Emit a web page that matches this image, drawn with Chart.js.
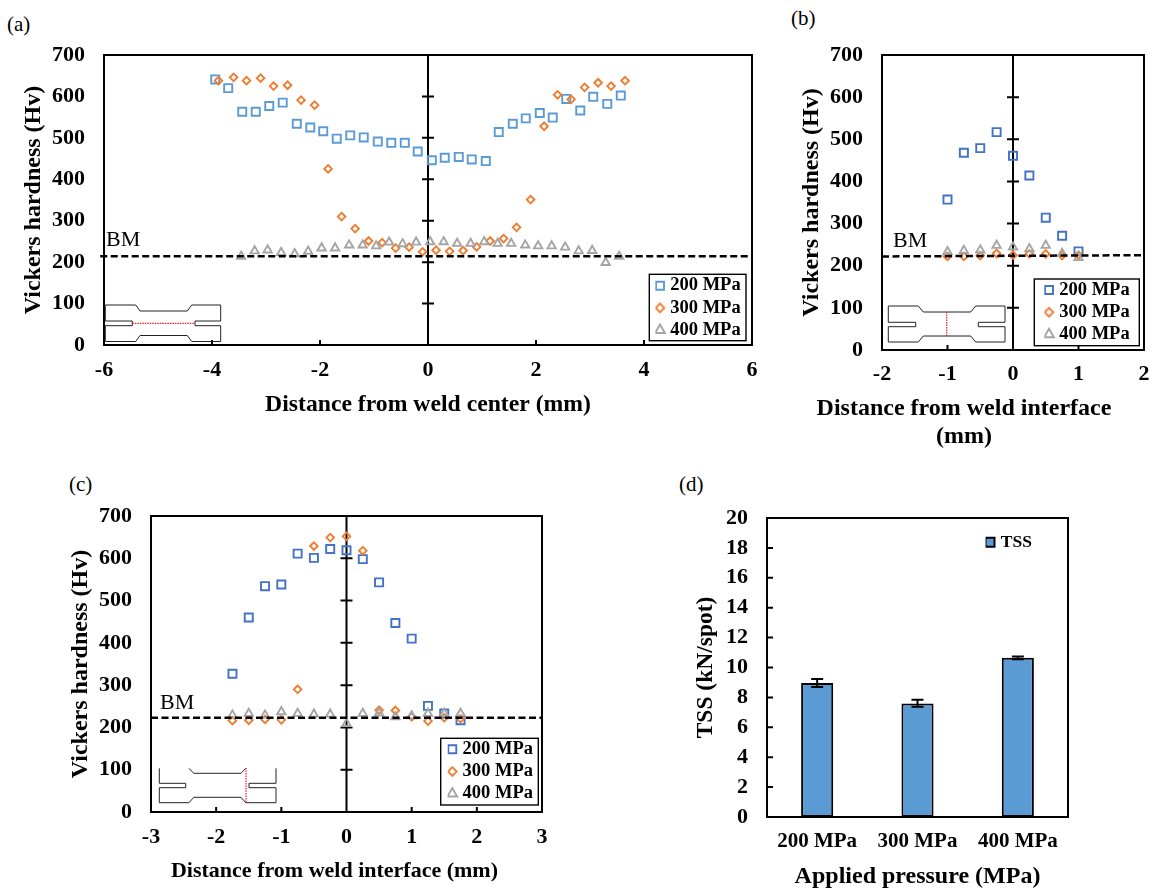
<!DOCTYPE html>
<html>
<head>
<meta charset="utf-8">
<script src="https://cdn.jsdelivr.net/npm/chart.js@4"></script>
<style>
html,body{margin:0;padding:0;background:#fff;width:1158px;height:892px;overflow:hidden}
canvas{position:absolute;display:block}
svg{position:absolute;left:0;top:0;pointer-events:none}
.letter{position:absolute;font:21px "Liberation Serif",serif;color:#000;line-height:24px}
</style>
</head>
<body>
<div class="letter" style="left:7px;top:12px">(a)</div>
<div class="letter" style="left:791px;top:6px">(b)</div>
<div class="letter" style="left:69px;top:472px">(c)</div>
<div class="letter" style="left:679px;top:472px">(d)</div>
<canvas id="ca"></canvas><canvas id="cb"></canvas><canvas id="cc"></canvas><canvas id="cd"></canvas>
<svg width="1158" height="892" fill="none">
  <g stroke="#222" stroke-width="1">
    <path d="M105.3 305H135.7L140 311H187.3L191.7 305H220.7V321H195V325.7H220.7V341.5H191.7L187.3 335.5H140L135.7 341.5H105.3V325.7H132.3V321H105.3Z"/>
    <path d="M888.3 306H918.3L923.3 312H970.7L975.7 306H1005V322.3H978.3V326.7H1005V342H975.7L970.7 336H923.3L918.3 342H888.3V326.7H915.7V322.3H888.3Z"/>
    <path d="M159.3 768.3V783.3H185.7V787.7H159.3V802.7H189L193.7 797.3H241L245.7 802.7H276V787.7H249V783.3H276V768.3M189 768.3L193.7 773.3H241L245.7 768.3"/>
  </g>
  <g stroke="#e8202a" stroke-width="1.2" stroke-dasharray="1.5 1">
    <path d="M132.3 323.4H195"/>
    <path d="M946.7 312V336"/>
    <path d="M246 768V803"/>
  </g>
</svg>
<script>
const pressureLabels = ['200 MPa', '300 MPa', '400 MPa'];

const aX200 = [-3.94,-3.70,-3.44,-3.19,-2.94,-2.69,-2.43,-2.18,-1.94,-1.69,-1.44,-1.19,-0.93,-0.68,-0.43,-0.19,0.07,0.31,0.57,0.81,1.07,1.31,1.57,1.81,2.07,2.31,2.56,2.82,3.06,3.32,3.57];
const aY200 = [641,620,563,563,577,585,534,525,516,498,506,501,491,488,488,467,446,452,454,448,444,514,534,547,560,549,594,566,599,582,602];
const aX300 = [-3.88,-3.60,-3.36,-3.10,-2.86,-2.60,-2.35,-2.10,-1.85,-1.60,-1.35,-1.10,-0.85,-0.60,-0.35,-0.10,0.15,0.40,0.65,0.90,1.15,1.40,1.64,1.90,2.15,2.40,2.65,2.90,3.15,3.39,3.65];
const aY300 = [638,646,638,644,625,627,591,579,425,310,281,251,247,234,236,225,229,226,228,237,251,257,284,351,528,604,593,622,633,625,638];
const aX400 = [-3.46,-3.21,-2.97,-2.72,-2.47,-2.22,-1.97,-1.72,-1.46,-1.21,-0.96,-0.72,-0.47,-0.22,0.04,0.29,0.54,0.79,1.04,1.29,1.54,1.80,2.04,2.29,2.54,2.79,3.04,3.29,3.54];
const aY400 = [214,227,229,223,220,226,234,234,241,241,239,248,244,248,249,249,245,245,249,245,245,241,239,239,236,227,228,199,214];
const aBmX = [-6.07,6];
const aBmY = [214,214];

const bX = [-1,-0.75,-0.5,-0.25,0,0.25,0.5,0.75,1];
const bY200 = [357,468,479,517,461,414,314,271,234];
const bY300 = [222,222,224,229,225,228,228,224,225];
const bY400 = [233,236,237,248,244,240,248,229,219];
const bBmX = [-2,2];
const bBmY = [222,225];

const cX = [-1.75,-1.5,-1.25,-1,-0.75,-0.5,-0.25,0,0.25,0.5,0.75,1,1.25,1.5,1.75];
const cY200 = [327,460,534,538,611,601,622,619,598,543,447,410,251,233,217];
const cY300 = [216,217,219,218,290,629,649,652,618,241,240,225,215,223,221];
const cY400 = [229,233,229,237,233,231,231,209,233,234,225,227,233,233,233];
const cBmX = [-3,3];
const cBmY = [223,223];

const tssValues = [8.97,7.6,10.65];
const tssLow = [8.69,7.37,10.55];
const tssHigh = [9.23,7.84,10.73];

const SERIF = '"Liberation Serif","Times New Roman",serif';
const BLUE_A = '#5B9BD5', BLUE_B = '#4472C4', ORANGE = '#ED7D31', GREY = '#A5A5A5';
Chart.defaults.animation = false;
Chart.defaults.color = '#000';

function zip(xs, ys){ return xs.map((x,i)=>({x, y:ys[i]})); }

function legendMark(draw){
  const c = document.createElement('canvas'); c.width = 13; c.height = 13;
  const g = c.getContext('2d'); g.translate(6.5,6.5); draw(g); return c;
}
const legendDiamond = legendMark(g=>{
  g.strokeStyle = ORANGE; g.lineWidth = 1.9; g.beginPath();
  g.moveTo(0,-4.3); g.lineTo(4.3,0); g.lineTo(0,4.3); g.lineTo(-4.3,0); g.closePath(); g.stroke();
});

function setCanvas(id, box){
  const c = document.getElementById(id);
  c.width = box.r-box.l; c.height = box.b-box.t;
  c.style.left = box.l+'px'; c.style.top = box.t+'px';
  c.style.width = (box.r-box.l)+'px'; c.style.height = (box.b-box.t)+'px';
  return c;
}

const framePlugin = {
  id:'frame',
  beforeDraw(chart, args, o){
    const l = chart.legend;
    const rect = chart.canvas.getBoundingClientRect();
    if (o.legendAt && l){
      const a = o.legendAt, lb = l.options.labels;
      const rowH = Math.max(lb.font.size, lb.boxHeight);
      l.left = a.x - rect.left - lb.padding;
      l.top = a.y - rect.top - lb.padding - rowH/2;
      l.right = l.left + 200; l.bottom = l.top + 100;
    }
    if (o.legendBox){
      const b = o.legendBox, c = chart.ctx;
      c.save(); c.fillStyle='#fff'; c.strokeStyle='#000'; c.lineWidth=1.4;
      c.fillRect(b.l-rect.left,b.t-rect.top,b.r-b.l,b.b-b.t);
      c.strokeRect(b.l-rect.left,b.t-rect.top,b.r-b.l,b.b-b.t);
      c.restore();
    }
  },
  beforeDatasetsDraw(chart, args, o){
    const {ctx, chartArea:a, scales:{x,y}} = chart;
    ctx.save();
    ctx.strokeStyle='#000';
    ctx.lineWidth = 2;
    ctx.strokeRect(a.left,a.top,a.right-a.left,a.bottom-a.top);
    if (o.cross){
      const x0 = x.getPixelForValue(0);
      ctx.beginPath(); ctx.moveTo(x0,a.top); ctx.lineTo(x0,a.bottom);
      y.ticks.forEach(t=>{
        if (t.value<=0 || t.value>=700) return;
        const p = y.getPixelForValue(t.value);
        ctx.moveTo(x0-6,p); ctx.lineTo(x0+6,p);
      });
      x.ticks.forEach(t=>{
        if (t.value===0 || t.value===x.min || t.value===x.max) return;
        const p = x.getPixelForValue(t.value);
        ctx.moveTo(p,a.bottom); ctx.lineTo(p,a.bottom-5);
      });
      ctx.stroke();
    } else {
      ctx.beginPath();
      y.ticks.forEach(t=>{
        if (t.value===y.min) return;
        const p = y.getPixelForValue(t.value);
        ctx.moveTo(a.left,p); ctx.lineTo(a.left+6,p);
      });
      ctx.stroke();
    }
    if (o.bm){
      const p = y.getPixelForValue(o.bm.value);
      ctx.font = '22px '+SERIF; ctx.fillStyle='#000'; ctx.textBaseline='alphabetic'; ctx.textAlign='left';
      ctx.fillText('BM', a.left+o.bm.dx, p-o.bm.dy);
    }
    ctx.restore();
  },
  afterDatasetsDraw(chart, args, o){
    if (!o.errors) return;
    const {ctx, scales:{x,y}} = chart;
    ctx.save(); ctx.strokeStyle='#000'; ctx.lineWidth=2;
    o.errors.low.forEach((lo,i)=>{
      const px = x.getPixelForValue(i), a = y.getPixelForValue(lo), b = y.getPixelForValue(o.errors.high[i]);
      ctx.beginPath();
      ctx.moveTo(px,a); ctx.lineTo(px,b);
      ctx.moveTo(px-6,a); ctx.lineTo(px+6,a);
      ctx.moveTo(px-6,b); ctx.lineTo(px+6,b);
      ctx.stroke();
    });
    ctx.restore();
  }
};

function fixedLayout(box, plot){
  return {
    padding:{left:0, top:plot.t-box.t, right:box.r-plot.r, bottom:0},
    yW:plot.l-box.l, xH:box.b-plot.b
  };
}
function fixX(s, h, shift){
  s.height = h; s.paddingLeft = 0; s.paddingRight = 0; s.paddingTop = 0; s.paddingBottom = 0;
  if (shift && !s._shifted){
    s._shifted = true;
    const draw = s.drawTitle;
    s.drawTitle = function(){
      const {left, right} = this;
      this.left = left + shift - 60; this.right = right + shift + 60;
      draw.call(this);
      this.left = left; this.right = right;
    };
  }
}
function fixY(s, w){
  s.width = w; s.paddingLeft = 0; s.paddingRight = 0; s.paddingTop = 0; s.paddingBottom = 0;
}

function legendOpts(){
  return {
    position:'chartArea', align:'start',
    labels:{
      usePointStyle:true, boxWidth:2, boxHeight:8, padding:3.7, color:'#000',
      font:{family:SERIF,size:18.5,weight:'bold',lineHeight:1.2},
      filter:item=>item.text!=='BM',
      sort:(p,q)=>p.datasetIndex-q.datasetIndex,
      generateLabels(chart){
        const items = Chart.defaults.plugins.legend.labels.generateLabels(chart);
        items.forEach(it=>{ if (it.text==='300 MPa') it.pointStyle = legendDiamond; });
        return items;
      }
    }
  };
}

function series(label, xs, ys, color, style, radius, order){
  return {type:'scatter', label, data:zip(xs,ys), order,
    pointStyle:style, pointRadius:radius, pointHoverRadius:radius,
    pointBorderColor:color, borderColor:color, pointBackgroundColor:'rgba(0,0,0,0)', backgroundColor:'rgba(0,0,0,0)',
    pointBorderWidth:1.9, borderWidth:1.9, clip:false};
}
function bmLine(xs, ys){
  return {type:'line', label:'BM', data:zip(xs,ys), order:0, parsing:true,
    borderColor:'#000', borderWidth:2.5, borderDash:[7,3.5], pointRadius:0, fill:false, clip:false, showLine:true, tension:0};
}

function hardness(id, cfg){
  const L = fixedLayout(cfg.box, cfg.plot);
  new Chart(setCanvas(id,cfg.box),{
    type:'scatter',
    data:{datasets:cfg.datasets},
    plugins:[framePlugin],
    options:{
      responsive:false, maintainAspectRatio:false, animation:false,
      layout:{padding:L.padding},
      plugins:{
        legend:legendOpts(), tooltip:{enabled:false},
        frame:{cross:true, bm:cfg.bm, legendBox:cfg.legendBox, legendAt:cfg.legendAt}
      },
      scales:{
        x:{type:'linear',min:cfg.xMin,max:cfg.xMax,
          grid:{display:false,drawTicks:false},border:{display:false},
          ticks:{stepSize:cfg.xStep,padding:cfg.xPad,maxRotation:0,autoSkip:false,color:'#000',font:{family:SERIF,size:22,weight:'bold'}},
          title:{display:true,text:cfg.xTitle,color:'#000',padding:0,font:{family:SERIF,size:cfg.xFont,weight:'bold',lineHeight:cfg.xLine||1.2}},
          afterFit(s){fixX(s,L.xH,cfg.xShift);}
        },
        y:{type:'linear',min:0,max:700,
          grid:{display:false,drawTicks:false},border:{display:false},
          ticks:{stepSize:100,padding:19,autoSkip:false,color:'#000',font:{family:SERIF,size:22,weight:'bold'}},
          title:{display:true,text:'Vickers hardness (Hv)',color:'#000',padding:0,font:{family:SERIF,size:24,weight:'bold',lineHeight:1.2}},
          afterFit(s){fixY(s,L.yW);}
        }
      }
    }
  });
}

hardness('ca',{
  box:{l:19,t:40,r:790,b:419}, plot:{l:104,t:55,r:752,b:345},
  xMin:-6,xMax:6,xStep:2,xPad:12,xTitle:'Distance from weld center (mm)',xFont:23.7,
  bm:{value:214,dx:2,dy:10},
  legendBox:{l:649.3,t:274.3,r:746,b:340.7}, legendAt:{x:659,y:285.7},
  datasets:[
    series(pressureLabels[0],aX200,aY200,BLUE_A,'rect',5.7,3),
    series(pressureLabels[1],aX300,aY300,ORANGE,'rectRot',3.8,2),
    series(pressureLabels[2],aX400,aY400,GREY,'triangle',4.8,1),
    bmLine(aBmX,aBmY)
  ]
});
hardness('cb',{
  box:{l:797,t:40,r:1158,b:451}, plot:{l:882,t:55,r:1144,b:350},
  xMin:-2,xMax:2,xStep:1,xPad:11,xTitle:['Distance from weld interface','(mm)'],xFont:24,xLine:1.17,xShift:-49,
  bm:{value:222,dx:11,dy:9},
  legendBox:{l:1034.3,t:279,r:1139.3,b:345.7}, legendAt:{x:1048,y:290},
  datasets:[
    series(pressureLabels[0],bX,bY200,BLUE_B,'rect',5.7,3),
    series(pressureLabels[1],bX,bY300,ORANGE,'rectRot',3.8,2),
    series(pressureLabels[2],bX,bY400,GREY,'triangle',4.8,1),
    bmLine(bBmX,bBmY)
  ]
});
hardness('cc',{
  box:{l:66,t:500,r:570,b:885}, plot:{l:151,t:516,r:542,b:812},
  xMin:-3,xMax:3,xStep:1,xPad:12,xTitle:'Distance from weld interface (mm)',xFont:22,xShift:-12,
  bm:{value:223,dx:9,dy:9},
  legendBox:{l:440.7,t:738.3,r:538.3,b:805}, legendAt:{x:451.3,y:749.3},
  datasets:[
    series(pressureLabels[0],cX,cY200,BLUE_B,'rect',5.7,3),
    series(pressureLabels[1],cX,cY300,ORANGE,'rectRot',3.8,2),
    series(pressureLabels[2],cX,cY400,GREY,'triangle',4.8,1),
    bmLine(cBmX,cBmY)
  ]
});

(function(){
  const box = {l:692,t:505,r:1100,b:891}, plot = {l:767,t:518,r:1068,b:817};
  const L = fixedLayout(box,plot);
  new Chart(setCanvas('cd',box),{
    type:'bar',
    data:{labels:pressureLabels,datasets:[{label:'TSS',data:tssValues,backgroundColor:BLUE_A,borderColor:'#000',borderWidth:2,borderSkipped:false,barPercentage:0.32,categoryPercentage:1}]},
    plugins:[framePlugin],
    options:{
      responsive:false,maintainAspectRatio:false,animation:false,
      layout:{padding:L.padding},
      plugins:{
        tooltip:{enabled:false},
        legend:{position:'chartArea',align:'start',labels:{usePointStyle:true,pointStyle:'rect',boxWidth:4,boxHeight:9,padding:2.4,color:'#000',font:{family:SERIF,size:17.5,weight:'bold',lineHeight:1.2}}},
        frame:{cross:false,legendAt:{x:988,y:542.3},errors:{low:tssLow,high:tssHigh}}
      },
      scales:{
        x:{grid:{display:false,drawTicks:false},border:{display:false},
          ticks:{padding:12,maxRotation:0,autoSkip:false,color:'#000',font:{family:SERIF,size:21,weight:'bold'}},
          title:{display:true,text:'Applied pressure (MPa)',color:'#000',padding:0,font:{family:SERIF,size:24,weight:'bold',lineHeight:1.2}},
          afterFit(s){fixX(s,L.xH);}},
        y:{min:0,max:20,grid:{display:false,drawTicks:false},border:{display:false},
          ticks:{stepSize:2,padding:19,autoSkip:false,color:'#000',font:{family:SERIF,size:22,weight:'bold'}},
          title:{display:true,text:'TSS (kN/spot)',color:'#000',padding:0,font:{family:SERIF,size:23.5,weight:'bold',lineHeight:1.2}},
          afterFit(s){fixY(s,L.yW);}}
      }
    }
  });
})();
</script>
</body>
</html>
